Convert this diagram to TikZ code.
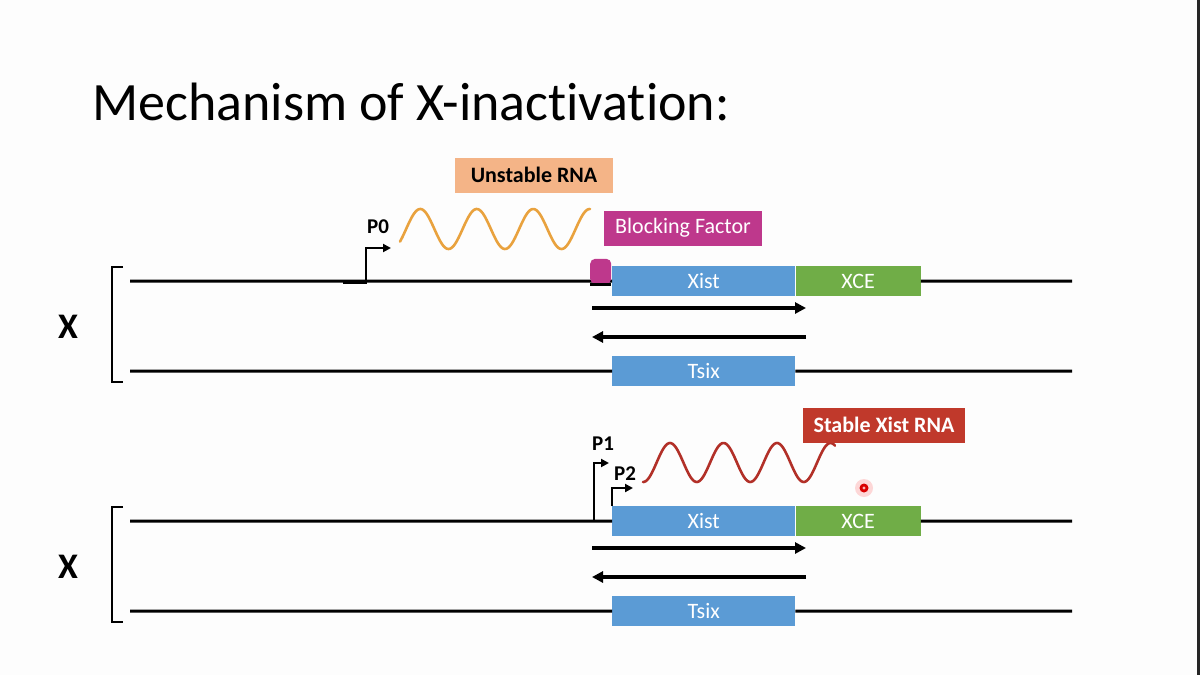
\documentclass[tikz,border=0pt]{standalone}
\usepackage{fontspec}
\setmainfont{Carlito}[Ligatures=NoCommon]
\usetikzlibrary{positioning,arrows.meta}

\begin{document}
\begin{tikzpicture}[x=1pt,y=-1pt, font=\fontsize{22}{26}\selectfont]
    \definecolor{pageColor}{RGB}{253,253,253}
    \definecolor{xistColor}{RGB}{91,155,213}
    \definecolor{xceColor}{RGB}{112,173,71}
    \definecolor{blockColor}{RGB}{190,56,140}
    \definecolor{unstableColor}{RGB}{244,180,135}
    \definecolor{waveOrange}{RGB}{233,162,62}
    \definecolor{stableColor}{RGB}{192,57,43}
    \definecolor{waveRed}{RGB}{178,48,40}

    \tikzset{
        genebox/.style={fill=#1, text=white, minimum height=30pt, inner sep=0pt},
        tagbox/.style={fill=#1, minimum width=158pt, minimum height=35pt, inner sep=0pt},
        chromline/.style={line width=3pt},
        strand/.style={line width=3.2pt, -{Triangle[length=11pt,width=11pt]}},
        promoter/.style={line width=2.6pt, -{Triangle[length=8pt,width=8pt]}},
        plabel/.style={font=\bfseries\fontsize{21}{23}\selectfont},
        rna/.style={line width=2.6pt, line cap=round}
    }

    \fill[pageColor] (0,0) rectangle (1200,675);
    \useasboundingbox (0,0) rectangle (1200,675);
    \fill[black!85] (1197,0) rectangle (1200,675);

    \node[anchor=base west, inner sep=0pt, font=\fontsize{54}{60}\selectfont] (title) at (92,120) {Mechanism of X-inactivation:};

    % the two X chromosomes
    \foreach \dy/\c in {0/a,240/b} {
        \node[genebox=xistColor, minimum width=183pt, anchor=north west] (xist\c) at (612,266+\dy) {Xist};
        \node[genebox=xceColor, minimum width=125pt, anchor=west] (xce\c) at (xist\c.east) {XCE};
        \node[genebox=xistColor, minimum width=183pt, anchor=north west] (tsix\c) at (612,356+\dy) {Tsix};

        \coordinate (leftTop\c) at (130,281+\dy);
        \coordinate (rightTop\c) at (1072,281+\dy);
        \coordinate (leftBot\c) at (130,371+\dy);
        \coordinate (rightBot\c) at (1072,371+\dy);
        \draw[chromline] (leftTop\c) -- (xist\c.west);
        \draw[chromline] (xce\c.east) -- (rightTop\c);
        \draw[chromline] (leftBot\c) -- (tsix\c.west);
        \draw[chromline] (tsix\c.east) -- (rightBot\c);

        \draw[line width=2.2pt] (123,267+\dy) -- (112,267+\dy) -- (112,382+\dy) -- (123,382+\dy);
        \node[font=\bfseries\fontsize{36}{38}\selectfont] (xlabel\c) at (68,327+\dy) {X};

        \coordinate (fwdStart\c) at (592,308+\dy);
        \coordinate (fwdEnd\c) at (806,308+\dy);
        \coordinate (revStart\c) at (806,337+\dy);
        \coordinate (revEnd\c) at (592,337+\dy);
        \draw[strand] (fwdStart\c) -- (fwdEnd\c);
        \draw[strand] (revStart\c) -- (revEnd\c);
    }

    % upper chromosome: P0 and blocking factor
    \draw[line width=4pt] (343,282) -- (367,282);
    \coordinate (p0foot) at (366,282);
    \coordinate (p0tip) at (391,248);
    \draw[promoter] (p0foot) |- (p0tip);
    \node[plabel] (p0) at (378,227) {P0};

    \draw[waveOrange, rna] plot[domain=400:590, samples=150, smooth] (\x, {229 - 20*sin((\x-392)/56.5*360 - 90)});
    \node[tagbox=unstableColor, font=\bfseries\fontsize{22}{24}\selectfont] (unstable) at (534,175) {Unstable RNA};

    \node[tagbox=blockColor, text=white] (block) at (683,228) {Blocking Factor};
    \node[fill=blockColor, rounded corners=5pt, minimum width=21pt, minimum height=25pt, inner sep=0pt, anchor=south west] (blob) at (590,284) {};
    \draw[chromline] (blob.south west) -- (blob.south east);

    % lower chromosome: P1, P2 and stable Xist RNA
    \coordinate (p1foot) at (594,521);
    \coordinate (p1tip) at (609,463);
    \draw[promoter] (p1foot) |- (p1tip);
    \node[plabel] (p1) at (603,444) {P1};
    \coordinate (p2tip) at (633,488);
    \draw[promoter] (xistb.north west) |- (p2tip);
    \node[plabel] (p2) at (625,474) {P2};

    \draw[waveRed, rna] plot[domain=643:835, samples=150, smooth] (\x, {462.5 - 19.5*sin((\x-670)/53.5*360 + 90)});
    \node[tagbox=stableColor, text=white, minimum width=162pt, font=\bfseries\fontsize{22}{24}\selectfont] (stable) at (884,425) {Stable Xist RNA};

    \fill[red, opacity=0.15] (864,488) circle (9);
    \fill[red!85!black] (864,488) circle (4.5);
    \fill[red!30] (864,488) circle (1.6);
\end{tikzpicture}
\end{document}
